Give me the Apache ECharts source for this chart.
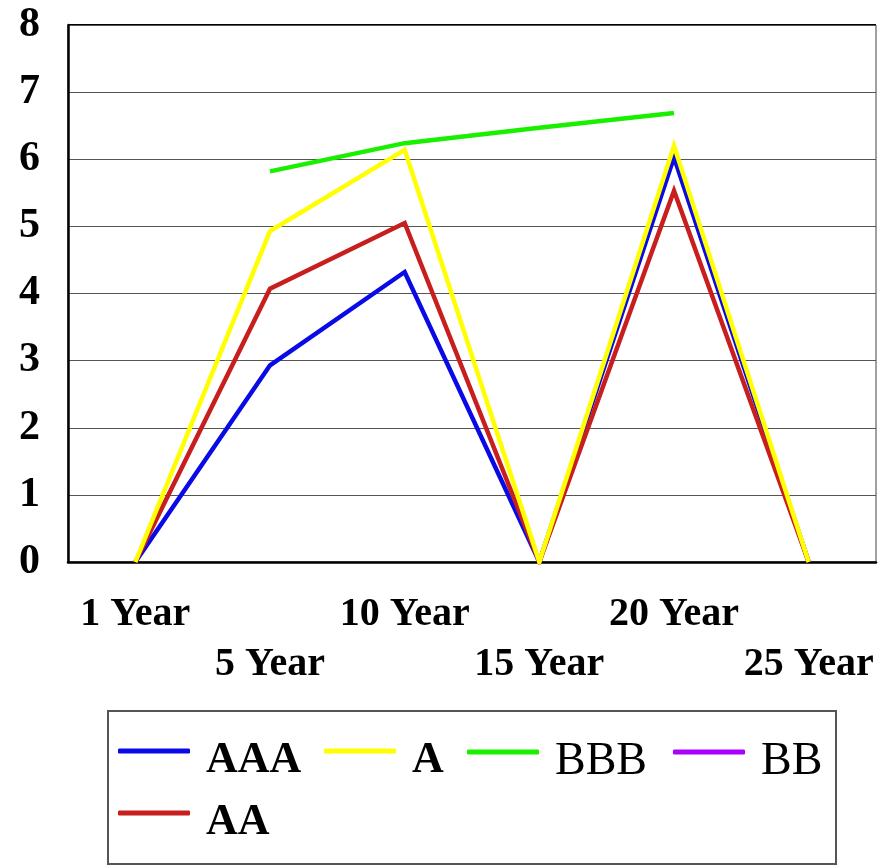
<!DOCTYPE html>
<html>
<head>
<meta charset="utf-8">
<script src="https://cdn.jsdelivr.net/npm/echarts@6/dist/echarts.min.js"></script>
<style>html,body{margin:0;padding:0;background:#fff}#c{width:895px;height:867px}</style>
</head>
<body>
<div id="c"></div>
<script>
const categories = ['1 Year', '5 Year', '10 Year', '15 Year', '20 Year', '25 Year'];
const seriesNames = ['AAA', 'AA', 'A', 'BBB', 'BB'];
const AAA = [0, 2.93, 4.32, 0, 6.03, 0];
const AA = [0, 4.07, 5.05, 0, 5.53, 0];
const A = [0, 4.93, 6.14, 0, 6.2, 0];
const BBB = [null, 5.82, 6.24, 6.47, 6.69, null];
const BB = [null, null, null, null, null, null];
const yTicks = [0, 1, 2, 3, 4, 5, 6, 7, 8];

const values = { AAA: AAA, AA: AA, A: A, BBB: BBB, BB: BB };
const colors = { AAA: '#0a0ae6', AA: '#c81e1e', A: '#ffff00', BBB: '#19f000', BB: '#aa00ff' };

const chart = echarts.init(document.getElementById('c'), null, { renderer: 'canvas' });
const font = '"Liberation Serif", "DejaVu Serif", serif';

function legendAt(name, left, cy, bold) {
  return {
    data: [name],
    left: left,
    top: cy - 12,
    orient: 'horizontal',
    selectedMode: false,
    icon: 'roundRect',
    itemWidth: 72,
    itemHeight: 5,
    padding: 0,
    formatter: '{t|{name}}',
    textStyle: {
      fontFamily: font,
      fontSize: bold ? 44 : 46,
      fontWeight: bold ? 'bold' : 'normal',
      color: '#000',
      rich: {
        t: {
          fontFamily: font,
          fontSize: bold ? 44 : 46,
          fontWeight: bold ? 'bold' : 'normal',
          color: '#000',
          padding: [20, 0, 0, 11]
        }
      }
    }
  };
}

chart.setOption({
  animation: false,
  backgroundColor: '#fff',
  grid: { left: 68, right: 19, top: 25, bottom: 305, show: true, borderColor: '#444', borderWidth: 1 },
  xAxis: {
    type: 'category',
    data: categories,
    boundaryGap: true,
    axisLine: { show: true, lineStyle: { color: '#000', width: 2.5 } },
    axisTick: { show: false },
    splitLine: { show: false },
    axisLabel: {
      interval: 0,
      margin: 28,
      color: '#000',
      fontFamily: font,
      fontSize: 40,
      fontWeight: 'bold',
      lineHeight: 50,
      formatter: function (v, i) { return i % 2 === 1 ? '\n' + v : v; }
    }
  },
  yAxis: {
    type: 'value',
    min: yTicks[0],
    max: yTicks[yTicks.length - 1],
    interval: 1,
    axisLine: { show: true, lineStyle: { color: '#000', width: 2.5 } },
    axisTick: { show: false },
    splitLine: { show: true, lineStyle: { color: '#555', width: 1.2 } },
    axisLabel: {
      margin: 28,
      color: '#000',
      fontFamily: font,
      fontSize: 42,
      fontWeight: 'bold'
    }
  },
  legend: [
    legendAt('AAA', 118, 751, true),
    legendAt('A', 324, 751, true),
    legendAt('BBB', 467, 751, false),
    legendAt('BB', 673, 751, false),
    legendAt('AA', 118, 813, true)
  ],
  graphic: [{
    type: 'rect',
    shape: { x: 108, y: 711, width: 728, height: 153 },
    style: { fill: 'none', stroke: '#555', lineWidth: 2 },
    silent: true
  }, {
    type: 'line',
    shape: { x1: 68, y1: 25, x2: 876, y2: 25 },
    style: { stroke: '#000', lineWidth: 2 },
    silent: true
  }],
  series: seriesNames.map(function (n) {
    return {
      name: n,
      type: 'line',
      data: values[n],
      symbol: 'none',
      connectNulls: false,
      color: colors[n],
      lineStyle: { color: colors[n], width: 4.5, join: 'miter' },
      itemStyle: { color: colors[n] }
    };
  })
});
</script>
</body>
</html>
